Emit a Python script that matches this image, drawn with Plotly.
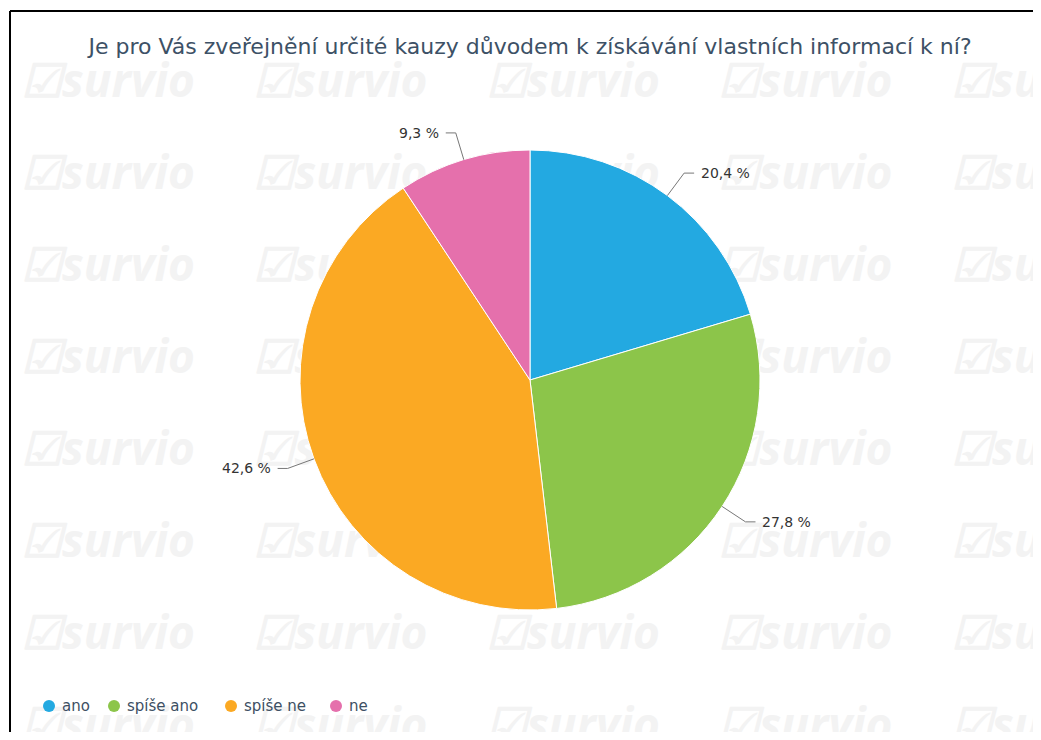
import math
import plotly.graph_objects as go

title = "Je pro Vás zveřejnění určité kauzy důvodem k získávání vlastních informací k ní?"
categories = ["ano", "spíše ano", "spíše ne", "ne"]
values = [20.4, 27.8, 42.6, 9.3]
value_labels = ["20,4 %", "27,8 %", "42,6 %", "9,3 %"]
colors = ["#23a9e1", "#8cc54a", "#fba923", "#e570ac"]

# page is shown with an 8px body margin, so the figure is sized to fit the window
OFF = 8
FW, FH = 1041 - OFF, 740 - 2 * OFF
cx, cy, R = 530, 380, 230  # page pixel geometry of the pie


def px(x):
    return (x - OFF) / FW


def py(y):
    return 1 - (y - OFF) / FH


fig = go.Figure()
fig.add_trace(go.Pie(
    labels=categories, values=values, sort=False, direction="clockwise", rotation=0,
    marker=dict(colors=colors, line=dict(color="white", width=1)),
    textinfo="none", hoverinfo="label+percent", showlegend=False,
    domain=dict(x=[px(cx - R), px(cx + R)], y=[py(cy + R), py(cy - R)]),
))

shapes = []
# watermark tiles (behind pie)
for r in range(8):
    yc = 82 + 92 * r
    for c in range(5):
        xc = 108 + 232.5 * c
        shapes.append(dict(
            type="rect", xref="paper", yref="paper", layer="below",
            x0=px(xc - 100), x1=px(xc + 100), y0=py(yc + 30), y1=py(yc - 30),
            line=dict(width=0), fillcolor="rgba(0,0,0,0)",
            label=dict(text="☑survio", textposition="middle center",
                       font=dict(family="Open Sans", size=46, color="#f3f3f3",
                                 weight="bold", style="italic")),
        ))

# frame
shapes.append(dict(type="line", xref="paper", yref="paper", x0=px(10), x1=1.0,
                   y0=py(11), y1=py(11), line=dict(color="black", width=2)))
shapes.append(dict(type="line", xref="paper", yref="paper", x0=px(10), x1=px(10),
                   y0=py(11), y1=-0.05, line=dict(color="black", width=2)))

annotations = []
total = sum(values)
cum = 0
for v, lab in zip(values, value_labels):
    mid = (cum + v / 2) / total * 2 * math.pi
    cum += v
    sx, sy = cx + R * math.sin(mid), cy - R * math.cos(mid)
    ex, ey = cx + (R + 28) * math.sin(mid), cy - (R + 28) * math.cos(mid)
    right = math.sin(mid) >= 0
    hx = ex + (10 if right else -10)
    tx = hx + (5 if right else -5)
    path = f"M {px(sx)} {py(sy)} L {px(ex)} {py(ey)} L {px(hx)} {py(ey)}"
    shapes.append(dict(type="path", xref="paper", yref="paper", path=path,
                       line=dict(color="#777777", width=1)))
    annotations.append(dict(
        x=px(tx), y=py(ey), xref="paper", yref="paper", text=lab, showarrow=False,
        xanchor="left" if right else "right", yanchor="middle",
        font=dict(family="DejaVu Sans", size=14, color="#333333"),
    ))

# legend (circle markers + labels)
legend_marker_x = [49, 114, 231, 336]
legend_y = 706
for c, col, mx in zip(categories, colors, legend_marker_x):
    shapes.append(dict(type="circle", xref="paper", yref="paper",
                       x0=px(mx - 6), x1=px(mx + 6), y0=py(legend_y + 6), y1=py(legend_y - 6),
                       fillcolor=col, line=dict(width=0)))
    annotations.append(dict(
        x=px(mx + 11), y=py(legend_y), xref="paper", yref="paper", text=c, showarrow=False,
        xanchor="left", yanchor="middle",
        font=dict(family="DejaVu Sans", size=15, color="#3d4f63"),
    ))

fig.update_layout(
    width=FW, height=FH,
    margin=dict(l=0, r=0, t=0, b=0),
    paper_bgcolor="white",
    title=dict(text=title, x=px(530), xanchor="center", y=py(46), yanchor="middle",
               yref="container",
               font=dict(family="DejaVu Sans", size=22, color="#3d5166")),
    showlegend=False,
    shapes=shapes, annotations=annotations,
)

fig.write_html("out.html")
